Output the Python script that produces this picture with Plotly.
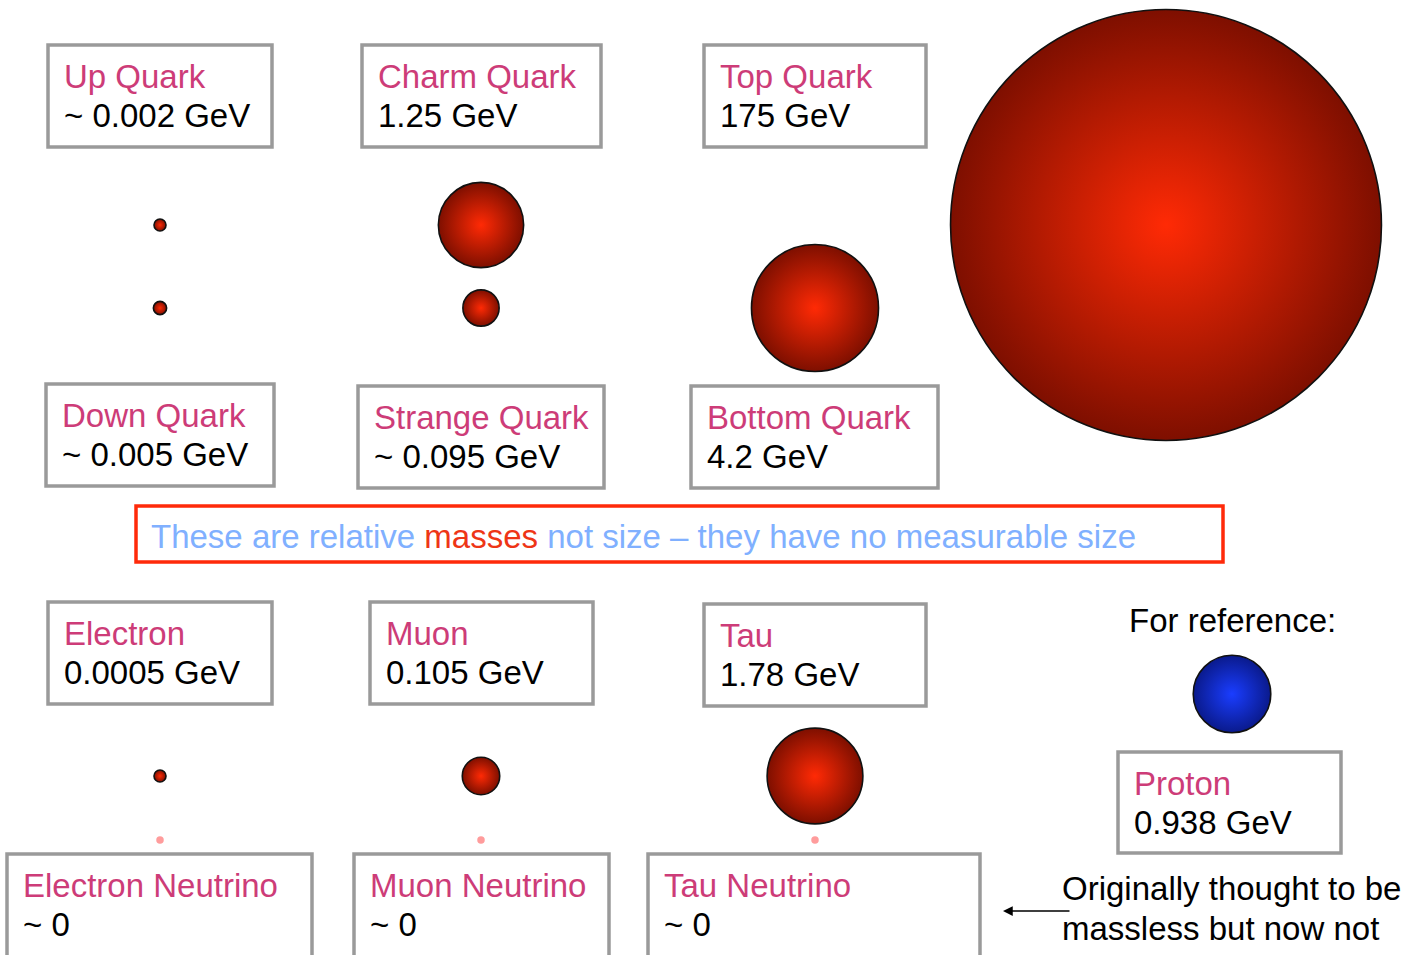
import plotly.graph_objects as go

# ---------------- data ----------------
particles = ["Up Quark", "Charm Quark", "Top Quark",
             "Down Quark", "Strange Quark", "Bottom Quark",
             "Electron", "Muon", "Tau"]
mass_labels = ["~ 0.002 GeV", "1.25 GeV", "175 GeV",
               "~ 0.005 GeV", "~ 0.095 GeV", "4.2 GeV",
               "0.0005 GeV", "0.105 GeV", "1.78 GeV"]
masses_gev = [0.002, 1.25, 175, 0.005, 0.095, 4.2, 0.0005, 0.105, 1.78]

neutrinos = ["Electron Neutrino", "Muon Neutrino", "Tau Neutrino"]
neutrino_labels = ["~ 0", "~ 0", "~ 0"]

ref_particle = "Proton"
ref_label = "0.938 GeV"
ref_mass = 0.938

# ---------------- layout (pixel canvas) ----------------
W, H = 1418, 955
# circle centres
circle_pos = {
    "Up Quark": (160, 225), "Charm Quark": (481, 225), "Top Quark": (1166, 225),
    "Down Quark": (160, 308), "Strange Quark": (481, 308), "Bottom Quark": (815, 308),
    "Electron": (160, 776), "Muon": (481, 776), "Tau": (815, 776),
    "Proton": (1232, 694),
    "Electron Neutrino": (160, 840), "Muon Neutrino": (481, 840), "Tau Neutrino": (815, 840),
}
# label boxes x0, y0, x1, y1
box_pos = {
    "Up Quark": (48, 45, 272, 147), "Charm Quark": (362, 45, 601, 147), "Top Quark": (704, 45, 926, 147),
    "Down Quark": (46, 384, 274, 486), "Strange Quark": (358, 386, 604, 488), "Bottom Quark": (691, 386, 938, 488),
    "Electron": (48, 602, 272, 704), "Muon": (370, 602, 593, 704), "Tau": (704, 604, 926, 706),
    "Proton": (1118, 752, 1341, 853),
    "Electron Neutrino": (7, 854, 312, 962), "Muon Neutrino": (354, 854, 609, 962),
    "Tau Neutrino": (648, 854, 980, 962),
}

# size scale: radius (px) ~ k * mass^p, with a minimum visible size
SIZE_K, SIZE_P, MIN_D = 40.1, 0.326, 12
def diameter(m):
    return max(MIN_D, 2 * SIZE_K * m ** SIZE_P - 1)

FONT = "Liberation Sans, Arial, Helvetica, sans-serif"
FS = 33
PINK = "#cd3c78"
RED_C, RED_E = "#ff2a05", "#7e0f00"
BLUE_C, BLUE_E = "#1a3dff", "#0a1a8c"

fig = go.Figure()

# fermion circles (plotly radial gradient: marker colour at rim, gradient colour at centre)
fig.add_trace(go.Scatter(
    x=[circle_pos[p][0] for p in particles],
    y=[circle_pos[p][1] for p in particles],
    mode="markers",
    marker=dict(size=[diameter(m) for m in masses_gev], color=RED_E,
                gradient=dict(type="radial", color=RED_C),
                line=dict(color="#111111", width=1.6), opacity=1),
    hoverinfo="skip", showlegend=False))

# neutrinos (tiny)
fig.add_trace(go.Scatter(
    x=[circle_pos[p][0] for p in neutrinos],
    y=[circle_pos[p][1] for p in neutrinos],
    mode="markers",
    marker=dict(size=7.5, color="#ff9c9c", line=dict(width=0)),
    hoverinfo="skip", showlegend=False))

# proton reference
fig.add_trace(go.Scatter(
    x=[circle_pos[ref_particle][0]], y=[circle_pos[ref_particle][1]],
    mode="markers",
    marker=dict(size=diameter(ref_mass), color=BLUE_E,
                gradient=dict(type="radial", color=BLUE_C),
                line=dict(color="#111111", width=1.6)),
    hoverinfo="skip", showlegend=False))

shapes, annotations = [], []

def add_box(name, value):
    x0, y0, x1, y1 = box_pos[name]
    shapes.append(dict(type="rect", xref="x", yref="y", x0=x0, y0=y0, x1=x1, y1=y1,
                       line=dict(color="#9a9a9a", width=3.5), fillcolor="white", layer="below"))
    tx = x0 + 14
    annotations.append(dict(x=tx, y=y0 + 31, xref="x", yref="y", text=name, showarrow=False,
                            xanchor="left", yanchor="middle",
                            font=dict(family=FONT, size=FS, color=PINK)))
    annotations.append(dict(x=tx, y=y0 + 70, xref="x", yref="y", text=value, showarrow=False,
                            xanchor="left", yanchor="middle",
                            font=dict(family=FONT, size=FS, color="black")))

for n, v in zip(particles, mass_labels):
    add_box(n, v)
for n, v in zip(neutrinos, neutrino_labels):
    add_box(n, v)
add_box(ref_particle, ref_label)

# banner
shapes.append(dict(type="rect", xref="x", yref="y", x0=136, y0=506, x1=1223, y1=562,
                   line=dict(color="#ff2a0a", width=3.5), fillcolor="white", layer="below"))
BLUE_T, RED_T = "#80b0ff", "#ee3516"
annotations.append(dict(
    x=149, y=536, xref="x", yref="y", showarrow=False, xanchor="left", yanchor="middle",
    text=(f"<span style='color:{BLUE_T}'>These are relative </span>"
          f"<span style='color:{RED_T}'>masses</span>"
          f"<span style='color:{BLUE_T}'> not size – they have no measurable size</span>"),
    font=dict(family=FONT, size=FS, color=BLUE_T)))

annotations.append(dict(x=1232, y=620, xref="x", yref="y", text="For reference:", showarrow=False,
                        xanchor="center", yanchor="middle",
                        font=dict(family=FONT, size=FS, color="black")))
annotations.append(dict(x=1060, y=888, xref="x", yref="y", text="Originally thought to be",
                        showarrow=False, xanchor="left", yanchor="middle",
                        font=dict(family=FONT, size=FS, color="black")))
annotations.append(dict(x=1060, y=928, xref="x", yref="y", text="massless but now not",
                        showarrow=False, xanchor="left", yanchor="middle",
                        font=dict(family=FONT, size=FS, color="black")))
# arrow
annotations.append(dict(x=1003, y=911, ax=1071, ay=911, xref="x", yref="y", axref="x", ayref="y",
                        text="", showarrow=True, arrowhead=2, arrowsize=1.3, arrowwidth=1.5,
                        arrowcolor="black"))

fig.update_layout(
    width=W, height=H, margin=dict(l=0, r=0, t=0, b=0),
    paper_bgcolor="white", plot_bgcolor="white",
    xaxis=dict(range=[0, W], visible=False, fixedrange=True),
    yaxis=dict(range=[H, 0], visible=False, fixedrange=True),
    shapes=shapes, annotations=annotations, showlegend=False,
)

fig.write_html("out.html", config={"displayModeBar": False},
               post_script="document.body.style.margin='0';document.body.style.overflow='hidden';")
